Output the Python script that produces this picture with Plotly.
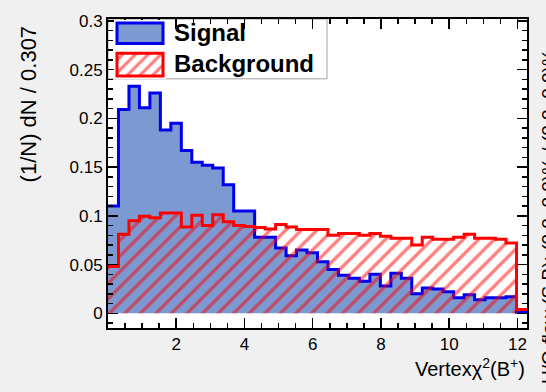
import numpy as np
import plotly.graph_objects as go

# ---------------- data ----------------
bin_width = 0.307
n_bins = 40
signal = [0.110, 0.209, 0.233, 0.211, 0.226, 0.188, 0.195, 0.167, 0.155, 0.152,
          0.149, 0.132, 0.105, 0.105, 0.078, 0.078, 0.067, 0.059, 0.065, 0.062,
          0.053, 0.045, 0.039, 0.036, 0.033, 0.040, 0.028, 0.041, 0.036, 0.020,
          0.026, 0.025, 0.022, 0.016, 0.019, 0.014, 0.016, 0.016, 0.017, 0.001]
background = [0.048, 0.081, 0.095, 0.0995, 0.098, 0.103, 0.103, 0.0885, 0.1005, 0.090,
              0.101, 0.094, 0.090, 0.089, 0.088, 0.0865, 0.091, 0.0885, 0.086, 0.086,
              0.086, 0.080, 0.082, 0.082, 0.080, 0.082, 0.079, 0.077, 0.077, 0.070,
              0.078, 0.076, 0.076, 0.078, 0.081, 0.077, 0.077, 0.076, 0.072, 0.004]
x_ticks = [2, 4, 6, 8, 10, 12]
series_names = ["Signal", "Background"]
x_title = "Vertexχ<sup>2</sup>(B<sup>+</sup>)"
y_title = "(1/N) dN / 0.307"
side_text = "U/O-flow (S,B): (0.0, 0.0)% / (0.0, 0.0)%"

SIG_FILL = "#7d99d1"
SIG_LINE = "#0000ee"
BKG_LINE = "#ff0000"
FONT = "Liberation Sans, Arial, Helvetica, sans-serif"

edges = bin_width * np.arange(n_bins + 1)
x_max = edges[-1]

# canvas geometry (pixels)
W, H = 546, 392
L, R, T, B = 108, 527, 13, 328


def px(x):
    return (x - L) / (R - L)


def py(y):
    return (B - y) / (B - T)


fig = go.Figure()

# signal histogram (filled step)
fig.add_trace(go.Scatter(
    x=edges, y=list(signal) + [signal[-1]], mode="lines",
    line=dict(shape="hv", color=SIG_LINE, width=3),
    fill="tozeroy", fillcolor=SIG_FILL, showlegend=False, hoverinfo="skip"))

# background histogram (hatched step)
fig.add_trace(go.Scatter(
    x=edges, y=list(background) + [background[-1]], mode="lines",
    line=dict(shape="hv", color=BKG_LINE, width=3),
    fill="tozeroy", fillcolor="rgba(0,0,0,0)",
    fillpattern=dict(shape="/", fgcolor=BKG_LINE, bgcolor="rgba(0,0,0,0)",
                     size=11, solidity=0.3),
    showlegend=False, hoverinfo="skip"))

# legend swatches on tiny helper axes
fig.add_trace(go.Bar(
    x=[0], y=[1], width=[1], xaxis="x2", yaxis="y2",
    marker=dict(color=SIG_FILL, line=dict(color=SIG_LINE, width=3)),
    showlegend=False, hoverinfo="skip"))
fig.add_trace(go.Bar(
    x=[0], y=[1], width=[1], xaxis="x3", yaxis="y3",
    marker=dict(color="white", line=dict(color=BKG_LINE, width=3),
                pattern=dict(shape="/", fgcolor=BKG_LINE, bgcolor="white",
                             size=9, solidity=0.35)),
    showlegend=False, hoverinfo="skip"))

axis_common = dict(showline=True, linecolor="black", linewidth=2, mirror="ticks",
                   ticks="inside", tickwidth=1.5, tickcolor="black",
                   showgrid=False, zeroline=False,
                   tickfont=dict(family=FONT, size=17, color="black"))

fig.update_layout(
    width=W, height=H,
    margin=dict(l=L, r=W - R, t=T, b=H - B, pad=0),
    paper_bgcolor="#f0f0f0", plot_bgcolor="white",
    showlegend=False, barmode="overlay",
    xaxis=dict(range=[0, x_max], tickvals=x_ticks, ticklen=10,
               minor=dict(dtick=0.5, tick0=0, ticklen=5, ticks="inside",
                          tickwidth=1.5, tickcolor="black"),
               **axis_common),
    yaxis=dict(range=[-0.0151, 0.302], dtick=0.05, tick0=0, ticklen=10,
               minor=dict(dtick=0.01, tick0=0, ticklen=5, ticks="inside",
                          tickwidth=1.5, tickcolor="black"),
               **axis_common),
    xaxis2=dict(domain=[px(114), px(166)], range=[-0.565, 0.565], anchor="y2",
                visible=False, fixedrange=True),
    yaxis2=dict(domain=[py(41), py(14)], range=[-0.143, 1.143], anchor="x2",
                visible=False, fixedrange=True),
    xaxis3=dict(domain=[px(114), px(166)], range=[-0.565, 0.565], anchor="y3",
                visible=False, fixedrange=True),
    yaxis3=dict(domain=[py(74), py(45)], range=[-0.13, 1.13], anchor="x3",
                visible=False, fixedrange=True),
)

# legend box
fig.add_shape(type="rect", xref="paper", yref="paper",
              x0=0, x1=px(327), y0=py(74), y1=1,
              fillcolor="white", line=dict(color="#a0a0a0", width=1), layer="below")

fig.add_annotation(text="<b>%s</b>" % series_names[0], xref="paper", yref="paper",
                   x=px(172), y=py(27), xanchor="left", yanchor="middle",
                   showarrow=False, font=dict(family=FONT, size=24, color="black"))
fig.add_annotation(text="<b>%s</b>" % series_names[1], xref="paper", yref="paper",
                   x=px(172), y=py(58), xanchor="left", yanchor="middle",
                   showarrow=False, font=dict(family=FONT, size=24, color="black"))

# axis titles
fig.add_annotation(text=x_title, xref="paper", yref="paper",
                   x=1.0, y=py(368), xanchor="right", yanchor="middle",
                   showarrow=False, font=dict(family=FONT, size=20, color="black"))
fig.add_annotation(text=y_title, xref="paper", yref="paper",
                   x=px(28), y=py(18), xanchor="center", yanchor="top",
                   textangle=-90, showarrow=False,
                   font=dict(family=FONT, size=22, color="black"))
fig.add_annotation(text=side_text, xref="paper", yref="paper",
                   x=px(536), y=py(387), xanchor="left", yanchor="bottom",
                   textangle=-90, showarrow=False,
                   font=dict(family=FONT, size=19, color="black"))

fig.write_html("out.html",
               config={"displayModeBar": False, "staticPlot": True},
               post_script="document.body.style.margin='0';"
                           "document.body.style.overflow='hidden';")
